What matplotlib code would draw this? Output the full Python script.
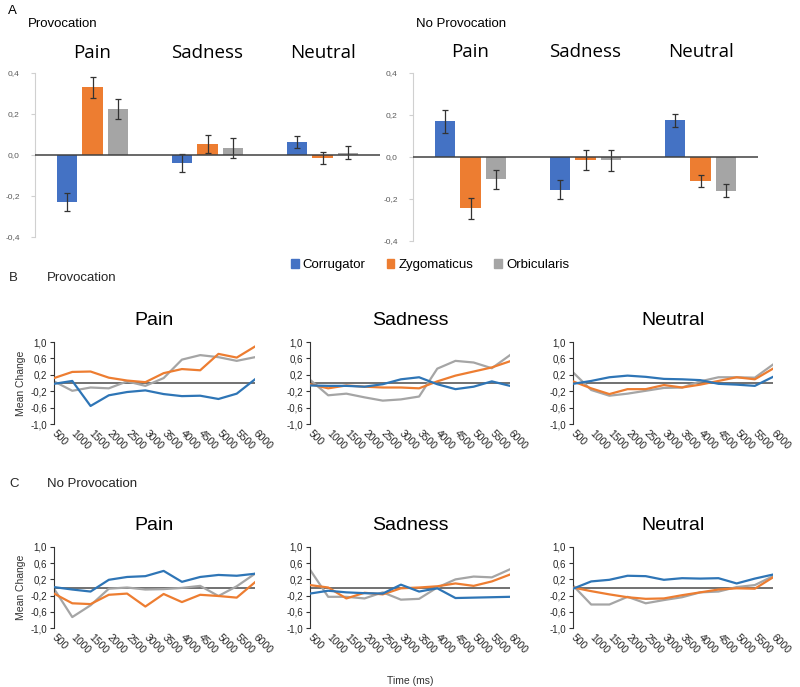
import numpy as np
import matplotlib
matplotlib.use("Agg")
import matplotlib.pyplot as plt
from matplotlib.patches import Patch

plt.rcParams['font.family'] = ['Liberation Sans', 'DejaVu Sans']

# ---------------- data ----------------
emotions = ["Pain", "Sadness", "Neutral"]
muscles = ["Corrugator", "Zygomaticus", "Orbicularis"]

# panel A: mean values and error bars, per muscle across emotions
prov_means = {
    "Corrugator": [-0.23, -0.04, 0.065],
    "Zygomaticus": [0.33, 0.055, -0.015],
    "Orbicularis": [0.225, 0.035, 0.012],
}
prov_errs = {
    "Corrugator": [0.045, 0.045, 0.03],
    "Zygomaticus": [0.05, 0.045, 0.03],
    "Orbicularis": [0.05, 0.05, 0.03],
}
noprov_means = {
    "Corrugator": [0.17, -0.155, 0.175],
    "Zygomaticus": [-0.245, -0.015, -0.115],
    "Orbicularis": [-0.105, -0.015, -0.16],
}
noprov_errs = {
    "Corrugator": [0.055, 0.047, 0.03],
    "Zygomaticus": [0.05, 0.047, 0.03],
    "Orbicularis": [0.045, 0.05, 0.03],
}

# panels B and C: time courses
time_ms = [500, 1000, 1500, 2000, 2500, 3000, 3500, 4000, 4500, 5000, 5500, 6000]

prov_pain_corr = [-0.02, 0.05, -0.56, -0.30, -0.22, -0.18, -0.27, -0.32, -0.31, -0.39, -0.26, 0.09]
prov_pain_zyg = [0.12, 0.27, 0.28, 0.13, 0.06, 0.02, 0.24, 0.34, 0.31, 0.71, 0.62, 0.89]
prov_pain_orb = [0.04, -0.19, -0.11, -0.13, 0.04, -0.07, 0.12, 0.57, 0.68, 0.63, 0.54, 0.63]

prov_sad_corr = [-0.06, -0.07, -0.07, -0.09, -0.03, 0.09, 0.14, -0.03, -0.15, -0.09, 0.04, -0.07]
prov_sad_zyg = [-0.03, -0.13, -0.06, -0.09, -0.11, -0.11, -0.13, 0.04, 0.18, 0.28, 0.38, 0.53]
prov_sad_orb = [0.08, -0.30, -0.26, -0.35, -0.43, -0.40, -0.33, 0.35, 0.54, 0.50, 0.36, 0.68]

prov_neu_corr = [-0.02, 0.05, 0.14, 0.18, 0.15, 0.10, 0.09, 0.07, -0.02, -0.04, -0.07, 0.15]
prov_neu_zyg = [0.04, -0.13, -0.27, -0.15, -0.15, -0.05, -0.11, -0.04, 0.05, 0.14, 0.09, 0.35]
prov_neu_orb = [0.26, -0.17, -0.31, -0.26, -0.19, -0.12, -0.11, 0.04, 0.14, 0.14, 0.13, 0.45]

noprov_pain_corr = [0.01, -0.05, -0.10, 0.19, 0.26, 0.28, 0.41, 0.14, 0.26, 0.31, 0.29, 0.34]
noprov_pain_zyg = [-0.15, -0.39, -0.41, -0.18, -0.15, -0.47, -0.16, -0.36, -0.18, -0.21, -0.25, 0.13]
noprov_pain_orb = [-0.03, -0.73, -0.44, -0.03, 0.0, -0.05, -0.04, -0.01, 0.04, -0.21, 0.03, 0.34]

noprov_sad_corr = [-0.15, -0.08, -0.12, -0.14, -0.15, 0.07, -0.10, -0.02, -0.26, -0.25, -0.24, -0.23]
noprov_sad_zyg = [0.06, 0.0, -0.27, -0.13, -0.17, -0.02, 0.0, 0.03, 0.10, 0.04, 0.15, 0.32]
noprov_sad_orb = [0.44, -0.23, -0.23, -0.27, -0.12, -0.30, -0.28, 0.0, 0.20, 0.27, 0.25, 0.45]

noprov_neu_corr = [-0.03, 0.15, 0.19, 0.29, 0.28, 0.19, 0.23, 0.22, 0.23, 0.10, 0.22, 0.32]
noprov_neu_zyg = [0.0, -0.09, -0.17, -0.24, -0.28, -0.27, -0.19, -0.12, -0.05, -0.02, -0.03, 0.25]
noprov_neu_orb = [0.05, -0.42, -0.42, -0.23, -0.39, -0.31, -0.24, -0.12, -0.10, 0.01, 0.06, 0.28]

bar_colors = {"Corrugator": "#4472C4", "Zygomaticus": "#ED7D31", "Orbicularis": "#A5A5A5"}
line_colors = {"Corrugator": "#2E75B6", "Zygomaticus": "#ED7D31", "Orbicularis": "#A5A5A5"}

fig = plt.figure(figsize=(8, 6.87), dpi=100)
W, H = 800, 687


def px_axes(x0, y0, x1, y1):
    # axes from pixel box (top-left origin)
    return fig.add_axes([x0 / W, 1 - y1 / H, (x1 - x0) / W, (y1 - y0) / H])


# =============== Panel A: bar charts ================
def bar_panel(ax, means, errs):
    x = np.arange(len(emotions))
    bw = 0.175
    offs = [-0.22, 0.0, 0.22]
    for off, m in zip(offs, muscles):
        ax.bar(x + off, means[m], width=bw, color=bar_colors[m], zorder=2)
        ax.errorbar(x + off, means[m], yerr=errs[m], fmt="none", ecolor="#333333",
                    elinewidth=0.9, capsize=2.5, capthick=0.9, zorder=3)
    ax.axhline(0, color="#404040", lw=1.1, zorder=4)
    ax.set_xlim(-0.5, 2.5)
    ax.set_ylim(-0.4, 0.4)
    ax.set_yticks([-0.4, -0.2, 0.0, 0.2, 0.4])
    ax.set_yticklabels(["-0,4", "-0,2", "0,0", "0,2", "0,4"], fontsize=6, color="#595959")
    ax.set_xticks([])
    for s in ["top", "right", "bottom"]:
        ax.spines[s].set_visible(False)
    ax.spines["left"].set_color("#d0d0d0")
    ax.tick_params(axis="y", color="#d0d0d0", length=3, pad=8)
    for i, e in enumerate(emotions):
        ax.text(i, 0.50, e, ha="center", va="center", fontsize=13.5,
                family=["Open Sans", "DejaVu Sans"], transform=ax.transData, clip_on=False)


axA1 = px_axes(35, 73, 380, 237)
bar_panel(axA1, prov_means, prov_errs)
axA2 = px_axes(413, 73, 758, 241)
bar_panel(axA2, noprov_means, noprov_errs)

fig.text(8 / W, 1 - 11 / H, "A", fontsize=9.5, va="center", ha="left")
fig.text(28 / W, 1 - 24 / H, "Provocation", fontsize=9.5, va="center", ha="left")
fig.text(416 / W, 1 - 24 / H, "No Provocation", fontsize=9.5, va="center", ha="left")

handles = [Patch(color=bar_colors[m], label=m) for m in muscles]
fig.legend(handles=handles, loc="center", bbox_to_anchor=(430 / W, 1 - 265 / H), ncol=3,
           frameon=False, fontsize=9.5, handlelength=0.6, handleheight=0.6,
           handletextpad=0.3, columnspacing=1.6)


# =============== Panels B and C: time courses ================
def line_panel(ax, corr, zyg, orb, title, ylabel=False, xlabel=False):
    x = np.arange(len(time_ms))
    ax.plot([0, len(time_ms) - 1], [0, 0], color="#595959", lw=1.2, zorder=1)
    ax.plot(x, orb, color=line_colors["Orbicularis"], lw=1.6, zorder=2)
    ax.plot(x, zyg, color=line_colors["Zygomaticus"], lw=1.6, zorder=3)
    ax.plot(x, corr, color=line_colors["Corrugator"], lw=1.6, zorder=4)
    ax.set_xlim(0, len(time_ms) - 1)
    ax.set_ylim(-1.0, 1.0)
    ax.set_yticks([-1.0, -0.6, -0.2, 0.2, 0.6, 1.0])
    ax.set_yticklabels(["-1,0", "-0,6", "-0,2", "0,2", "0,6", "1,0"], fontsize=7, color="#262626")
    ax.set_xticks(x)
    ax.set_xticklabels([str(t) for t in time_ms], fontsize=7.5, color="#262626",
                       rotation=-45, ha="left", va="center", rotation_mode="anchor")
    ax.tick_params(axis="x", length=0, pad=6)
    ax.tick_params(axis="y", length=3, color="#333333", pad=2)
    for s in ["top", "right", "bottom"]:
        ax.spines[s].set_visible(False)
    ax.spines["left"].set_color("#333333")
    ax.set_title(title, fontsize=14, pad=12)
    if ylabel:
        ax.set_ylabel("Mean Change", fontsize=7.5, color="#333333", labelpad=3)
    if xlabel:
        ax.set_xlabel("Time (ms)", fontsize=7.5, color="#333333", labelpad=14)


cols = [(54, 255), (310, 510), (573, 773)]
rowB = (342, 424)
rowC = (547, 628)

axB1 = px_axes(cols[0][0], rowB[0], cols[0][1], rowB[1])
line_panel(axB1, prov_pain_corr, prov_pain_zyg, prov_pain_orb, "Pain", ylabel=True)
axB2 = px_axes(cols[1][0], rowB[0], cols[1][1], rowB[1])
line_panel(axB2, prov_sad_corr, prov_sad_zyg, prov_sad_orb, "Sadness")
axB3 = px_axes(cols[2][0], rowB[0], cols[2][1], rowB[1])
line_panel(axB3, prov_neu_corr, prov_neu_zyg, prov_neu_orb, "Neutral")

axC1 = px_axes(cols[0][0], rowC[0], cols[0][1], rowC[1])
line_panel(axC1, noprov_pain_corr, noprov_pain_zyg, noprov_pain_orb, "Pain", ylabel=True)
axC2 = px_axes(cols[1][0], rowC[0], cols[1][1], rowC[1])
line_panel(axC2, noprov_sad_corr, noprov_sad_zyg, noprov_sad_orb, "Sadness", xlabel=True)
axC3 = px_axes(cols[2][0], rowC[0], cols[2][1], rowC[1])
line_panel(axC3, noprov_neu_corr, noprov_neu_zyg, noprov_neu_orb, "Neutral")

fig.text(9 / W, 1 - 278 / H, "B", fontsize=9.5, va="center", ha="left", color="#262626")
fig.text(47 / W, 1 - 278 / H, "Provocation", fontsize=9.5, va="center", ha="left", color="#262626")
fig.text(9 / W, 1 - 484 / H, "C", fontsize=9.5, va="center", ha="left", color="#262626")
fig.text(47 / W, 1 - 484 / H, "No Provocation", fontsize=9.5, va="center", ha="left", color="#262626")

fig.savefig("out.png", dpi=100)
